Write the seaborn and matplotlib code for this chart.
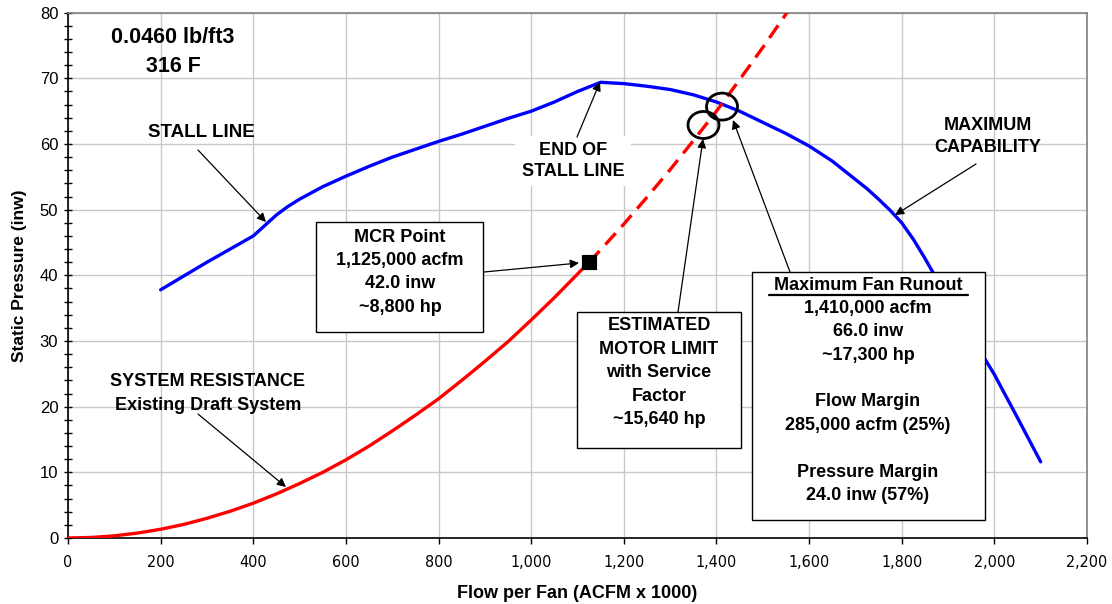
import matplotlib
matplotlib.use("Agg")
import matplotlib.pyplot as plt
import seaborn as sns
import pandas as pd
from matplotlib.patches import Rectangle, Ellipse
from matplotlib.ticker import MultipleLocator, FixedLocator

# ---------------- data ----------------
fan_flow = [200, 250, 300, 350, 400, 425, 450, 475, 500, 550, 600, 650, 700, 750, 800,
            850, 900, 950, 1000, 1050, 1100, 1150, 1200, 1250, 1300, 1350, 1400, 1450,
            1500, 1550, 1600, 1650, 1700, 1725, 1750, 1775, 1800, 1825, 1850, 1875,
            1900, 1950, 2000, 2050, 2100]
fan_sp = [37.8, 39.9, 42.0, 44.0, 46.0, 47.6, 49.2, 50.5, 51.6, 53.5, 55.1, 56.6, 58.0,
          59.2, 60.4, 61.5, 62.7, 63.9, 65.0, 66.4, 68.0, 69.4, 69.2, 68.8, 68.3, 67.5,
          66.4, 65.0, 63.3, 61.6, 59.7, 57.4, 54.6, 53.2, 51.6, 49.9, 48.0, 45.5, 42.6,
          39.5, 36.4, 30.7, 24.9, 18.3, 11.6]

sys_flow_solid = [0, 50, 100, 150, 200, 250, 300, 350, 400, 450, 500, 550, 600, 650, 700,
                  750, 800, 850, 900, 950, 1000, 1050, 1100, 1125]
sys_sp_solid = [0.0, 0.08, 0.33, 0.75, 1.33, 2.07, 3.0, 4.07, 5.3, 6.72, 8.3, 10.0, 11.9,
                14.0, 16.3, 18.7, 21.2, 24.0, 26.9, 29.9, 33.2, 36.6, 40.2, 42.0]
sys_flow_dash = [1125, 1150, 1200, 1250, 1300, 1350, 1400, 1450, 1500, 1560]
sys_sp_dash = [42.0, 43.9, 47.8, 51.9, 56.1, 60.5, 65.0, 69.8, 74.7, 80.8]

mcr_flow = [1125]
mcr_sp = [42.0]
runout_circle = (1412, 65.7)
motor_circle = (1372, 62.9)

x_ticks = list(range(0, 2201, 200))
x_tick_labels = [f"{v:,}" for v in x_ticks]
y_ticks = list(range(0, 81, 10))

# ---------------- style ----------------
sns.set_theme(style="white")
plt.rcParams['font.family'] = ['Liberation Sans', 'DejaVu Sans']
plt.rcParams['text.color'] = 'black'
plt.rcParams['axes.labelcolor'] = 'black'
plt.rcParams['xtick.color'] = 'black'
plt.rcParams['ytick.color'] = 'black'

W, H = 1112, 604
fig = plt.figure(figsize=(W / 100, H / 100), dpi=100)
L, R, T, B = 68, 1087, 12.7, 538
ax = fig.add_axes([L / W, (H - B) / H, (R - L) / W, (B - T) / H])

fan_df = pd.DataFrame({"flow": fan_flow, "sp": fan_sp})
sol_df = pd.DataFrame({"flow": sys_flow_solid, "sp": sys_sp_solid})
dash_df = pd.DataFrame({"flow": sys_flow_dash, "sp": sys_sp_dash})

sns.lineplot(data=fan_df, x="flow", y="sp", color="#0000ff", lw=2.4, ax=ax, zorder=3)
sns.lineplot(data=sol_df, x="flow", y="sp", color="#ff0000", lw=2.4, ax=ax, zorder=3)
sns.lineplot(data=dash_df, x="flow", y="sp", color="#ff0000", lw=2.4, ax=ax, zorder=3,
             linestyle=(0, (4.6, 2.6)))
sns.scatterplot(x=mcr_flow, y=mcr_sp, marker="s", s=110, color="black", ax=ax, zorder=4,
                edgecolor="black")

ax.set_xlim(0, 2200)
ax.set_ylim(0, 80)
ax.xaxis.set_major_locator(FixedLocator(x_ticks))
ax.set_xticklabels(x_tick_labels)
ax.yaxis.set_major_locator(FixedLocator(y_ticks))
ax.yaxis.set_minor_locator(MultipleLocator(2))
ax.grid(True, which="major", color="#c8c8c8", lw=1.0)
ax.set_axisbelow(True)

ax.tick_params(axis="y", which="both", direction="inout", length=6, width=1, color="black",
               labelcolor="black", left=True, labelsize=12, pad=4)
ax.tick_params(axis="x", which="major", direction="out", length=4, width=1, color="black",
               labelcolor="black", bottom=True, labelsize=11.5, pad=8)
for lab in ax.get_xticklabels():
    lab.set_fontstretch("condensed")
    lab.set_family(["DejaVu Sans", "Liberation Sans"])
    lab.set_color("black")
for lab in ax.get_yticklabels():
    lab.set_color("black")

for side in ["left", "bottom"]:
    ax.spines[side].set_color("black")
    ax.spines[side].set_linewidth(1.2)
for side in ["top", "right"]:
    ax.spines[side].set_color("#808080")
    ax.spines[side].set_linewidth(1.2)

ax.set_xlabel("Flow per Fan (ACFM x 1000)", fontsize=13, fontweight="bold", labelpad=11,
              color="black")
ax.set_ylabel("Static Pressure (inw)", fontsize=12.5, fontweight="bold", labelpad=9,
              color="black")


def P(px, py):
    return ((px - L) / (R - L) * 2200, (B - py) / (B - T) * 80)


def text_px(px, py, s, size=13, **kw):
    x, y = P(px, py)
    return ax.text(x, y, s, ha="center", va="center", fontsize=size, fontweight="bold",
                   color="black", zorder=7, clip_on=False, **kw)


def lines_px(px, py0, step, lines, size=13):
    for i, s in enumerate(lines):
        if s:
            text_px(px, py0 + i * step, s, size=size)


def box_px(x0, y0, x1, y1):
    a = P(x0, y1)
    b = P(x1, y0)
    ax.add_patch(Rectangle(a, b[0] - a[0], b[1] - a[1], facecolor="white",
                           edgecolor="black", lw=1.0, zorder=6, clip_on=False))


def arrow_px(tail, tip):
    ax.annotate("", xy=P(*tip), xytext=P(*tail),
                arrowprops=dict(arrowstyle="-|>", color="black", lw=0.9,
                                mutation_scale=13, shrinkA=0, shrinkB=0),
                zorder=8)


# circles
ew = 31 / (R - L) * 2200
eh = 27 / (B - T) * 80
for c in [runout_circle, motor_circle]:
    ax.add_patch(Ellipse(c, ew, eh, facecolor="none", edgecolor="black", lw=2.0, zorder=5))

# density label
text_px(173, 38, "0.0460 lb/ft3", size=15.5)
text_px(173, 66, "316 F", size=15.5)

# stall line
text_px(201, 133, "STALL LINE", size=13.5)
arrow_px((198, 150), (266, 222))

# end of stall line
x, y = P(573, 161)
ax.text(x, y, "END OF\nSTALL LINE", ha="center", va="center", fontsize=13, fontweight="bold",
        color="black", linespacing=1.3, zorder=7,
        bbox=dict(boxstyle="square,pad=0.35", facecolor="white", edgecolor="none"))
arrow_px((577, 137), (600, 82))

# MCR box
box_px(316, 222, 483, 332)
lines_px(400, 237, 23.4, ["MCR Point", "1,125,000 acfm", "42.0 inw", "~8,800 hp"])
arrow_px((484, 272), (579, 263))

# motor limit box
box_px(577, 312, 741, 448)
lines_px(659, 326, 23.4, ["ESTIMATED", "MOTOR LIMIT", "with Service", "Factor", "~15,640 hp"])
arrow_px((678, 312), (703, 139))

# max fan runout box
box_px(752, 272, 985, 520)
lines_px(868, 285, 23.4, ["Maximum Fan Runout", "1,410,000 acfm", "66.0 inw", "~17,300 hp", "",
                          "Flow Margin", "285,000 acfm (25%)", "", "Pressure Margin",
                          "24.0 inw (57%)"])
ua = P(769, 295)
ub = P(968, 295)
ax.plot([ua[0], ub[0]], [ua[1], ub[1]], color="black", lw=1.6, zorder=8, clip_on=False)
arrow_px((790, 272), (733, 120))

# maximum capability
lines_px(988, 126, 22, ["MAXIMUM", "CAPABILITY"], size=13)
arrow_px((976, 164), (895, 215))

# system resistance
lines_px(208, 381, 24, ["SYSTEM RESISTANCE", "Existing Draft System"], size=13)
arrow_px((198, 414), (286, 487))

fig.savefig("out.png", dpi=100)
